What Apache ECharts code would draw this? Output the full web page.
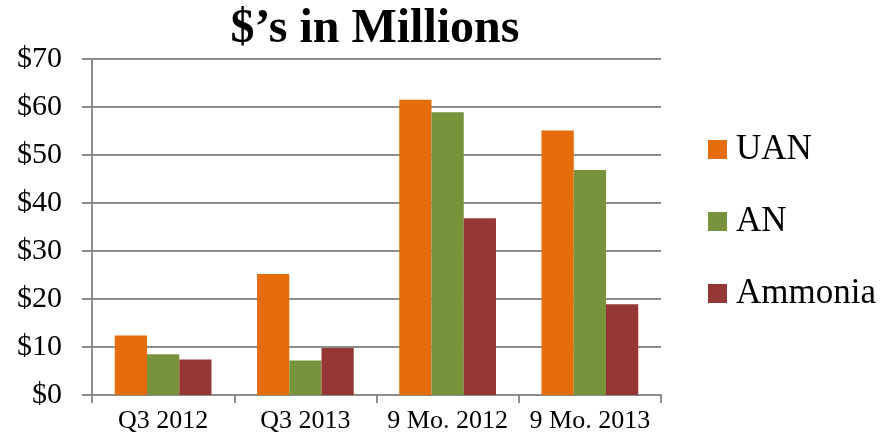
<!DOCTYPE html>
<html>
<head>
<meta charset="utf-8">
<script src="https://cdn.jsdelivr.net/npm/echarts@6/dist/echarts.min.js"></script>
<style>
  html, body { margin: 0; padding: 0; background: #fff; }
  #chart { width: 882px; height: 440px; }
</style>
</head>
<body>
<div id="chart"></div>
<script>
// Revenue by product, in millions of dollars
const categories = ['Q3 2012', 'Q3 2013', '9 Mo. 2012', '9 Mo. 2013'];
const uanValues = [12.4, 25.2, 61.5, 55.1];
const anValues = [8.5, 7.2, 58.9, 46.9];
const ammoniaValues = [7.4, 9.8, 36.8, 18.9];
const yTicks = [0, 10, 20, 30, 40, 50, 60, 70];

const serif = '"Liberation Serif", "Times New Roman", serif';
const axisGray = '#8c8c8c';

const chart = echarts.init(document.getElementById('chart'), null, { renderer: 'canvas' });

chart.setOption({
  animation: false,
  backgroundColor: '#ffffff',
  title: {
    text: '$\u2019s in Millions',
    left: 370,
    top: 1,
    textAlign: 'center',
    textStyle: { fontFamily: serif, fontWeight: 'bold', fontSize: 48, color: '#000' }
  },
  legend: {
    orient: 'vertical',
    left: 703,
    top: 127,
    itemWidth: 19,
    itemHeight: 19,
    itemGap: 37,
    icon: 'rect',
    textStyle: { fontFamily: serif, fontSize: 35, color: '#000', padding: [0, 0, 0, 4] },
    data: ['UAN', 'AN', 'Ammonia']
  },
  grid: { left: 92, right: 221, top: 59, bottom: 45, containLabel: false },
  xAxis: {
    type: 'category',
    data: categories,
    axisLine: { show: true, lineStyle: { color: axisGray, width: 2 } },
    axisTick: { show: true, length: 8, lineStyle: { color: axisGray, width: 2 } },
    axisLabel: { interval: 0, fontFamily: serif, fontSize: 26, color: '#000', margin: 13 }
  },
  yAxis: {
    type: 'value',
    min: yTicks[0],
    max: yTicks[yTicks.length - 1],
    interval: 10,
    axisLine: { show: true, lineStyle: { color: axisGray, width: 2 } },
    axisTick: { show: true, inside: false, length: 10, lineStyle: { color: axisGray, width: 2 } },
    splitLine: { show: true, lineStyle: { color: axisGray, width: 2 } },
    axisLabel: {
      fontFamily: serif, fontSize: 30, color: '#000', margin: 30,
      formatter: v => '$' + v
    }
  },
  series: [
    { name: 'UAN', type: 'bar', data: uanValues, barGap: '0%', barCategoryGap: '32%',
      itemStyle: { color: '#E46C0A' } },
    { name: 'AN', type: 'bar', data: anValues, barGap: '0%', barCategoryGap: '32%',
      itemStyle: { color: '#77933C' } },
    { name: 'Ammonia', type: 'bar', data: ammoniaValues, barGap: '0%', barCategoryGap: '32%',
      itemStyle: { color: '#953735' } }
  ]
});
</script>
</body>
</html>
